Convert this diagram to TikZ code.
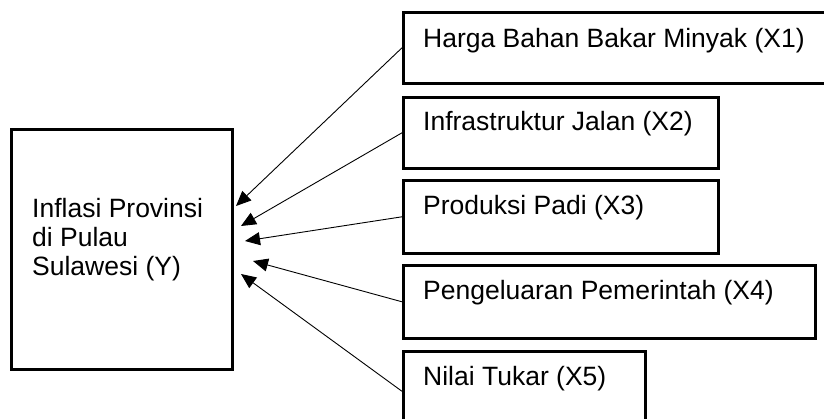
\documentclass[tikz,border=0pt]{standalone}
\usepackage{fontspec}
\setmainfont{Liberation Sans}
\usetikzlibrary{arrows.meta}
\begin{document}
\begin{tikzpicture}[x=1pt,y=-1pt,
  boxstyle/.style={draw=black,line width=2.6pt,rectangle,inner sep=0pt,anchor=north west},
  lbl/.style={anchor=base west,inner sep=0pt,font=\fontsize{26.5}{29}\selectfont},
  arr/.style={line width=0.9pt,-{Triangle[length=15pt,width=13pt]}}]
\useasboundingbox (0,0) rectangle (824,419);
\begin{scope}
\clip (0,0) rectangle (824,419);
\node[boxstyle,minimum width=221pt,minimum height=240pt] (y) at (10,128) {};
\node[boxstyle,minimum width=430pt,minimum height=71pt] (x1) at (402,11) {};
\node[boxstyle,minimum width=315pt,minimum height=71pt] (x2) at (402,96) {};
\node[boxstyle,minimum width=315pt,minimum height=73pt] (x3) at (402,179) {};
\node[boxstyle,minimum width=412pt,minimum height=73pt] (x4) at (402,264) {};
\node[boxstyle,minimum width=242pt,minimum height=80pt] (x5) at (402,350) {};
\end{scope}
\node[lbl] (ty1) at (32,217.5) {Inflasi Provinsi};
\node[lbl] (ty2) at (32,246.5) {di Pulau};
\node[lbl] (ty3) at (32,275.5) {Sulawesi (Y)};
\node[lbl] (t1) at (423,47.3) {Harga Bahan Bakar Minyak (X1)};
\node[lbl] (t2) at (423,130.5) {Infrastruktur Jalan (X2)};
\node[lbl] (t3) at (423,215) {Produksi Padi (X3)};
\node[lbl] (t4) at (423,300) {Pengeluaran Pemerintah (X4)};
\node[lbl] (t5) at (423,385) {Nilai Tukar (X5)};
\coordinate (h1) at (236,206);
\coordinate (h2) at (241,226);
\coordinate (h3) at (245,241);
\coordinate (h4) at (253,261);
\coordinate (h5) at (241,274);
\draw[arr] (x1.west) -- (h1);
\draw[arr] (x2.west) -- (h2);
\draw[arr] (x3.west) -- (h3);
\draw[arr] (x4.west) -- (h4);
\draw[arr] (x5.west) -- (h5);
\end{tikzpicture}
\end{document}
